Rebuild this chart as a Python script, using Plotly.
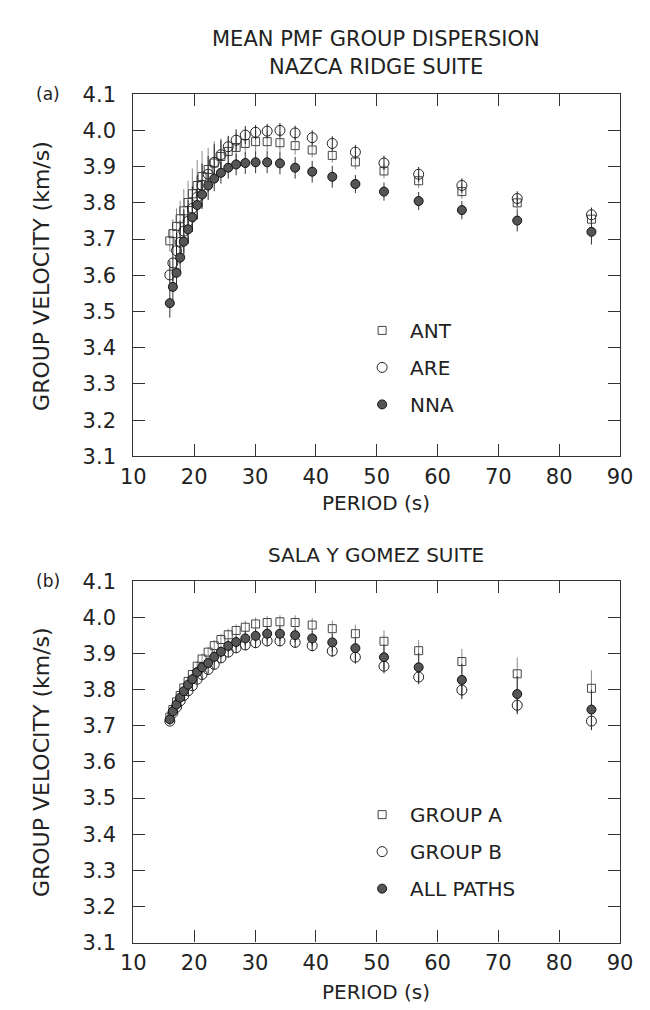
import plotly.graph_objects as go

# ---------------- data ----------------
periods = [16.0, 16.5, 17.1, 17.7, 18.3, 19.0, 19.7, 20.5, 21.3, 22.3, 23.3, 24.4, 25.6, 26.9,
           28.4, 30.1, 32.0, 34.1, 36.6, 39.4, 42.7, 46.5, 51.2, 56.9, 64.0, 73.1, 85.3]

# panel (a) Nazca Ridge suite
ant = [3.695, 3.715, 3.735, 3.756, 3.778, 3.801, 3.825, 3.848, 3.873, 3.892, 3.910, 3.928, 3.942, 3.953,
       3.964, 3.969, 3.969, 3.966, 3.958, 3.946, 3.931, 3.913, 3.888, 3.861, 3.831, 3.800, 3.755]
ant_err = [0.03, 0.04, 0.05, 0.05, 0.06, 0.06, 0.07, 0.07, 0.07, 0.06, 0.06, 0.05, 0.04, 0.04,
           0.03, 0.03, 0.03, 0.03, 0.025, 0.02, 0.02, 0.02, 0.02, 0.02, 0.02, 0.02, 0.02]
are = [3.601, 3.634, 3.668, 3.691, 3.722, 3.749, 3.785, 3.816, 3.848, 3.879, 3.912, 3.933, 3.955, 3.973,
       3.987, 3.995, 3.998, 4.000, 3.993, 3.980, 3.964, 3.940, 3.910, 3.879, 3.848, 3.812, 3.767]
are_err = [0.04, 0.05, 0.05, 0.06, 0.06, 0.06, 0.06, 0.06, 0.06, 0.05, 0.05, 0.04, 0.03, 0.03,
           0.025, 0.02, 0.02, 0.02, 0.02, 0.02, 0.02, 0.02, 0.02, 0.02, 0.02, 0.02, 0.02]
nna = [3.523, 3.568, 3.607, 3.649, 3.693, 3.727, 3.760, 3.794, 3.823, 3.848, 3.867, 3.883, 3.897, 3.906,
       3.910, 3.912, 3.912, 3.909, 3.897, 3.886, 3.872, 3.852, 3.831, 3.805, 3.780, 3.751, 3.720]
nna_err = [0.04, 0.04, 0.04, 0.04, 0.04, 0.04, 0.04, 0.04, 0.04, 0.04, 0.035, 0.03, 0.03, 0.03,
           0.03, 0.03, 0.03, 0.03, 0.03, 0.03, 0.03, 0.025, 0.025, 0.025, 0.025, 0.03, 0.035]

# panel (b) Sala y Gomez suite
grp_a = [3.724, 3.745, 3.766, 3.784, 3.805, 3.823, 3.842, 3.865, 3.885, 3.904, 3.922, 3.939, 3.952, 3.964,
         3.973, 3.982, 3.986, 3.988, 3.986, 3.979, 3.969, 3.955, 3.934, 3.908, 3.878, 3.844, 3.804]
grp_a_err = [0.01, 0.01, 0.01, 0.012, 0.012, 0.012, 0.014, 0.014, 0.015, 0.015, 0.016, 0.016, 0.017, 0.017,
             0.018, 0.018, 0.018, 0.018, 0.02, 0.02, 0.022, 0.025, 0.03, 0.03, 0.035, 0.045, 0.05]
grp_b = [3.713, 3.736, 3.752, 3.769, 3.784, 3.797, 3.811, 3.829, 3.842, 3.856, 3.870, 3.888, 3.904, 3.916,
         3.924, 3.930, 3.935, 3.935, 3.931, 3.922, 3.907, 3.890, 3.865, 3.835, 3.799, 3.757, 3.713]
grp_b_err = [0.01, 0.01, 0.01, 0.01, 0.01, 0.01, 0.012, 0.012, 0.012, 0.012, 0.014, 0.014, 0.014, 0.015,
             0.015, 0.015, 0.015, 0.015, 0.015, 0.016, 0.016, 0.018, 0.02, 0.02, 0.025, 0.025, 0.025]
all_p = [3.718, 3.740, 3.759, 3.778, 3.796, 3.814, 3.829, 3.849, 3.862, 3.874, 3.891, 3.905, 3.921, 3.932,
         3.942, 3.949, 3.955, 3.955, 3.951, 3.942, 3.931, 3.915, 3.890, 3.862, 3.827, 3.788, 3.745]
all_p_err = [0.012, 0.012, 0.012, 0.012, 0.012, 0.014, 0.014, 0.014, 0.015, 0.015, 0.016, 0.016, 0.017, 0.018,
             0.02, 0.02, 0.02, 0.02, 0.02, 0.022, 0.024, 0.03, 0.035, 0.04, 0.045, 0.05, 0.055]

x_ticks = [10, 20, 30, 40, 50, 60, 70, 80, 90]
y_ticks = [3.1, 3.2, 3.3, 3.4, 3.5, 3.6, 3.7, 3.8, 3.9, 4.0, 4.1]

FONT = "DejaVu Sans"
INK = "#222222"

W, H = 650, 1010
def px_x(p):
    return p / W
def px_y(p):
    return 1 - p / H

fig = go.Figure()

def add(y, err, name, symbol, fill, line, errc, xa, ya, leg, size=9):
    fig.add_trace(go.Scatter(
        x=periods, y=y, mode="markers", name=name, xaxis=xa, yaxis=ya, legend=leg,
        legendgroup=name,
        marker=dict(symbol=symbol, size=size, color=fill, line=dict(color=line, width=1)),
        error_y=dict(type="data", array=err, width=0, thickness=1, color=errc),
    ))

add(ant, ant_err, "ANT", "square-open", "#444", "#444", "#8a8a8a", "x", "y", "legend", 8)
add(are, are_err, "ARE", "circle-open", "#222", "#222", "#222", "x", "y", "legend", 10)
add(nna, nna_err, "NNA", "circle", "#555", "#111", "#333", "x", "y", "legend", 9)

add(grp_a, grp_a_err, "GROUP A", "square-open", "#444", "#444", "#8a8a8a", "x2", "y2", "legend2", 8)
add(grp_b, grp_b_err, "GROUP B", "circle-open", "#222", "#222", "#222", "x2", "y2", "legend2", 10)
add(all_p, all_p_err, "ALL PATHS", "circle", "#555", "#111", "#333", "x2", "y2", "legend2", 9)

xdom = [px_x(117), px_x(624)]
ya_dom = [px_y(447), px_y(76)]
yb_dom = [px_y(945), px_y(575)]

axis_common = dict(showline=True, linecolor="#333", linewidth=1.2, mirror="ticks",
                   ticks="inside", ticklen=12, tickwidth=1, tickcolor="#333",
                   showgrid=False, zeroline=False,
                   tickfont=dict(family=FONT, size=21, color=INK))

xcommon = dict(axis_common, range=[10, 90], tickvals=x_ticks, ticklabelstandoff=1)
ycommon = dict(axis_common, range=[3.1, 4.1], tickvals=y_ticks, tickformat=".1f",
               ticklabelstandoff=12)

legend_common = dict(font=dict(family=FONT, size=20, color=INK), bgcolor="rgba(0,0,0,0)",
                     tracegroupgap=8, itemwidth=46, xanchor="left", yanchor="top",
                     traceorder="grouped")

fig.update_layout(
    width=W, height=H, autosize=False,
    margin=dict(l=0, r=0, t=0, b=0),
    paper_bgcolor="white", plot_bgcolor="white",
    showlegend=True,
    xaxis=dict(xcommon, domain=xdom, anchor="y"),
    yaxis=dict(ycommon, domain=ya_dom, anchor="x"),
    xaxis2=dict(xcommon, domain=xdom, anchor="y2"),
    yaxis2=dict(ycommon, domain=yb_dom, anchor="x2"),
    legend=dict(legend_common, x=px_x(347), y=px_y(298)),
    legend2=dict(legend_common, x=px_x(347), y=px_y(794)),
)

def text(s, x, y, size=20, angle=0, xanchor="center"):
    fig.add_annotation(text=s, x=px_x(x), y=px_y(y), xref="paper", yref="paper",
                       showarrow=False, textangle=angle, xanchor=xanchor, yanchor="middle",
                       font=dict(family=FONT, size=size, color=INK))

text("MEAN PMF GROUP DISPERSION", 370, 19, size=21)
text("NAZCA RIDGE SUITE", 370, 48, size=21)
text("SALA Y GOMEZ SUITE", 370, 548)
text("PERIOD (s)", 370, 495)
text("PERIOD (s)", 370, 996)
text("GROUP VELOCITY (km/s)", 22, 262, size=22, angle=-90)
text("GROUP VELOCITY (km/s)", 22, 760, size=22, angle=-90)
text("(a)", 28, 76, size=17)
text("(b)", 28, 575, size=17)

fig.write_html("out.html")
